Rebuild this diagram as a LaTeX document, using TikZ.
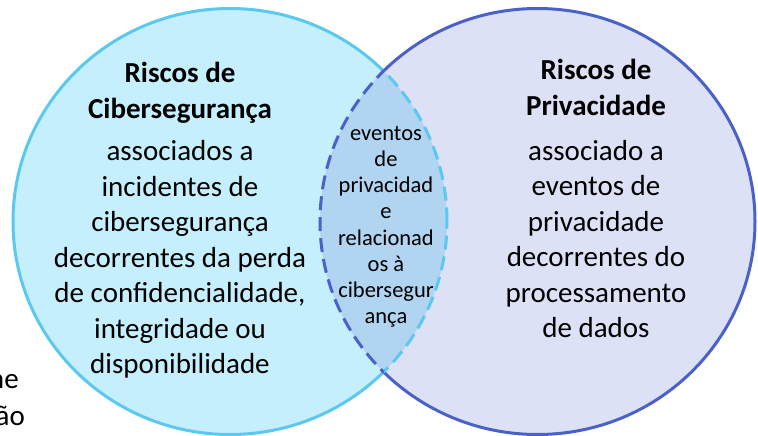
\documentclass[tikz,border=0pt]{standalone}
\usepackage{fontspec}
\setmainfont{Carlito}
\definecolor{lfill}{HTML}{C5EFFC}
\definecolor{lline}{HTML}{5BC8F0}
\definecolor{rfill}{HTML}{DCE1F5}
\definecolor{rline}{HTML}{4A62C8}
\definecolor{lensfill}{HTML}{B1D4F0}
\tikzset{
  lstroke/.style={draw=lline, line width=3pt},
  rstroke/.style={draw=rline, line width=3pt},
  dashpat/.style={dash pattern=on 14pt off 7pt},
  bodytxt/.style={anchor=base, inner sep=0pt, font=\fontsize{29}{35}\selectfont},
  titletxt/.style={anchor=base, inner sep=0pt, font=\fontsize{29}{35}\selectfont\bfseries},
  lenstxt/.style={anchor=base, inner sep=0pt, font=\fontsize{22.5}{26}\selectfont},
}
\begin{document}
\begin{tikzpicture}[x=1pt,y=-1pt]
\useasboundingbox (0,0) rectangle (758,436);
% fills
\fill[lfill] (230,221.5) ellipse [x radius=217pt, y radius=213pt];
\fill[rfill] (537.5,221.5) ellipse [x radius=217.5pt, y radius=213pt];
\begin{scope}
  \clip (230,221.5) ellipse [x radius=217pt, y radius=213pt];
  \fill[lensfill] (537.5,221.5) ellipse [x radius=217.5pt, y radius=213pt];
\end{scope}
% solid outer arcs
\begin{scope}[even odd rule]
  \clip (-20,-20) rectangle (780,460) (537.5,221.5) ellipse [x radius=217.5pt, y radius=213pt];
  \draw[lstroke] (230,221.5) ellipse [x radius=217pt, y radius=213pt];
\end{scope}
\begin{scope}[even odd rule]
  \clip (-20,-20) rectangle (780,460) (230,221.5) ellipse [x radius=217pt, y radius=213pt];
  \draw[rstroke] (537.5,221.5) ellipse [x radius=217.5pt, y radius=213pt];
\end{scope}
% dashed inner arcs
\begin{scope}
  \clip (537.5,221.5) ellipse [x radius=217.5pt, y radius=213pt];
  \draw[lstroke, dashpat] (230,221.5) ellipse [x radius=217pt, y radius=213pt];
\end{scope}
\begin{scope}
  \clip (230,221.5) ellipse [x radius=217pt, y radius=213pt];
  \draw[rstroke, dashpat] (537.5,221.5) ellipse [x radius=217.5pt, y radius=213pt];
\end{scope}
% left texts
\node[titletxt] (lt1) at (180,83) {Riscos de};
\node[titletxt] (lt2) at (180,118) {Cibersegurança};
\node[bodytxt] (lb1) at (180,160) {associados a};
\node[bodytxt] (lb2) at (180,196) {incidentes de};
\node[bodytxt] (lb3) at (180,231.5) {cibersegurança};
\node[bodytxt] (lb4) at (180,267) {decorrentes da perda};
\node[bodytxt] (lb5) at (180,302.5) {de confidencialidade,};
\node[bodytxt] (lb6) at (180,338) {integridade ou};
\node[bodytxt] (lb7) at (180,373) {disponibilidade};
% right texts
\node[titletxt] (rt1) at (596,80) {Riscos de};
\node[titletxt] (rt2) at (596,115) {Privacidade};
\node[bodytxt] (rb1) at (596,160) {associado a};
\node[bodytxt] (rb2) at (596,195.5) {eventos de};
\node[bodytxt] (rb3) at (596,231) {privacidade};
\node[bodytxt] (rb4) at (596,266.5) {decorrentes do};
\node[bodytxt] (rb5) at (596,302) {processamento};
\node[bodytxt] (rb6) at (596,337.5) {de dados};
% lens texts
\node[lenstxt] (c1) at (386,140) {eventos};
\node[lenstxt] (c2) at (386,166) {de};
\node[lenstxt] (c3) at (386,192) {privacidad};
\node[lenstxt] (c4) at (386,218.5) {e};
\node[lenstxt] (c5) at (386,245) {relacionad};
\node[lenstxt] (c6) at (386,271.5) {os à};
\node[lenstxt] (c7) at (386,297.5) {cibersegur};
\node[lenstxt] (c8) at (386,323.5) {ança};
% partial texts at left edge
\node[bodytxt, anchor=base east] (p1) at (19,388) {me};
\node[bodytxt, anchor=base east] (p2) at (25,425) {ão};
\end{tikzpicture}
\end{document}
